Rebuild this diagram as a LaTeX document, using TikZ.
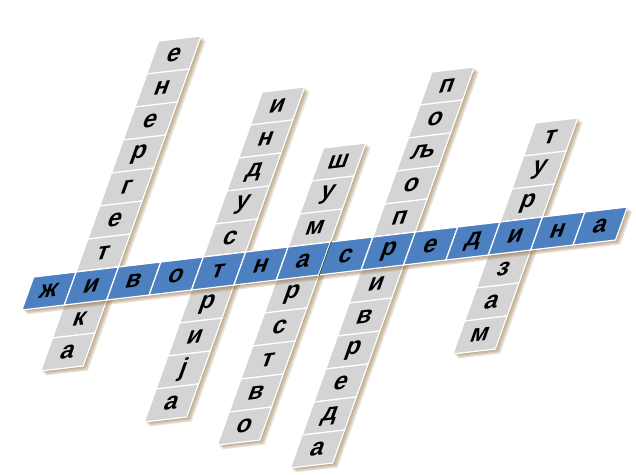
\documentclass[tikz,border=0pt]{standalone}
\usepackage{fontspec}
\setmainfont{Liberation Sans}
\definecolor{cellblue}{RGB}{76,128,192}
\definecolor{cellgray}{RGB}{212,212,212}
\definecolor{shade}{RGB}{140,100,50}
\definecolor{seam}{RGB}{40,85,65}
\begin{document}
\begin{tikzpicture}[x=1pt, y=1pt,
    cell/.style={draw=white, line width=1.2pt, minimum width=40pt, minimum height=30pt,
      inner sep=0pt, font=\fontsize{23}{23}\selectfont\bfseries, text=black},
    across/.style={cell, fill=cellblue},
    down/.style={cell, fill=cellgray},
    shadow/.style={fill=shade, opacity=0.18}
  ]
  \useasboundingbox (0,0) rectangle (636,-474);

  \begin{scope}[cm={1.06,0.125,0.393,1.1,(49pt,-291pt)}, x=40pt, y=30pt, transform shape]
    % Vertical words
    \foreach \c/\f/\len/\n/\w in {1/-7/10/energ/{е,н,е,р,г,е,т,и,к,а},
        4/-5/10/indus/{и,н,д,у,с,т,р,и,ј,а},
        6/-3/9/sumar/{ш,у,м,а,р,с,т,в,о},
        8/-5/12/poljo/{п,о,љ,о,п,р,и,в,р,е,д,а},
        11/-3/7/turiz/{т,у,р,и,з,а,м}} {
      \foreach \s in {0.04,0.08,0.12,0.16}
        \fill[shadow] ({\c-0.5+\s}, {-\f+0.5-\s}) rectangle ++(1,-\len);
      \foreach \l [count=\k from 0] in \w
        \node[down] (\n\k) at (\c, {-(\f+\k)}) {\l};
    }

    % Horizontal word
    \foreach \s in {0.04,0.08,0.12,0.16}
      \fill[shadow] ({-0.5+\s}, {0.5-\s}) rectangle ++(14,-1);
    \foreach \l [count=\k from 0] in {ж,и,в,о,т,н,а,с,р,е,д,и,н,а}
      \node[across] (sred\k) at (\k, 0) {\l};

    % Seam between the two words
    \draw[seam, line width=0.8pt] (sred6.north east) -- (sred6.south east);
  \end{scope}
\end{tikzpicture}
\end{document}
